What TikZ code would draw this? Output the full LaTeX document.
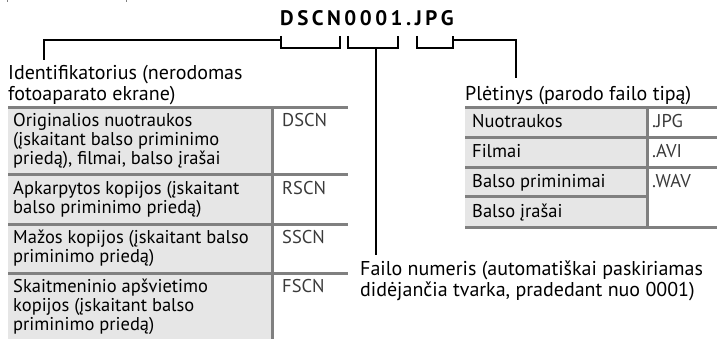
\documentclass[tikz,border=0pt]{standalone}
\usepackage{fontspec}
\setmainfont{PT Sans}
\definecolor{cellgray}{HTML}{E6E6E6}
\definecolor{rulegray}{HTML}{808080}
\definecolor{codegray}{HTML}{3A3A3A}
\newcommand{\tk}{\kern3.5pt}
\begin{document}
\begin{tikzpicture}[x=1pt,y=-1pt,
  lbl/.style={anchor=base west, inner sep=0pt, font=\fontsize{20}{21}\selectfont},
  cell/.style={anchor=base west, inner sep=0pt, font=\fontsize{18.5}{19}\selectfont},
  codetxt/.style={anchor=base west, inner sep=0pt, font=\fontsize{18.5}{19}\selectfont, text=codegray},
  titletxt/.style={anchor=base west, inner sep=0pt, font=\fontsize{21}{24}\selectfont\bfseries},
  tabrule/.style={line width=3pt, draw=rulegray},
  lead/.style={line width=2pt, draw=black},
  tick/.style={line width=1pt, draw=rulegray}]
\useasboundingbox (0,0) rectangle (717,339);
% tiny marks at the top edge
\coordinate (m1a) at (7,0); \coordinate (m1b) at (7,2);
\coordinate (m2a) at (126,0); \coordinate (m2b) at (126,2);
\draw[tick] (m1a) -- (m1b);
\draw[tick] (m2a) -- (m2b);
% title
\node[titletxt] (title) at (280,26) {D\tk S\tk C\tk N\tk 0\tk 0\tk 0\tk 1\tk .\tk J\tk P\tk G};
% brackets
\coordinate (b1l) at (281,36); \coordinate (b1r) at (340,36);
\coordinate (b2l) at (348,36); \coordinate (b2r) at (398,36);
\coordinate (b3l) at (417,36); \coordinate (b3r) at (453,36);
\draw[lead] (b1l) -- ++(0,12) -| (b1r);
\draw[lead] (b2l) -- ++(0,12) -| (b2r);
\draw[lead] (b3l) -- ++(0,12) -| (b3r);
% labels
\node[lbl] (idA) at (8,80) {Identifikatorius (nerodomas};
\node[lbl] (idB) at (8,101) {fotoaparato ekrane)};
\node[lbl] (ext) at (465,101) {Plėtinys (parodo failo tipą)};
\node[lbl] (numA) at (360,275) {Failo numeris (automatiškai paskiriamas};
\node[lbl] (numB) at (360,296) {didėjančia tvarka, pradedant nuo 0001)};
% leaders
\coordinate (j1) at (281,40);
\coordinate (j1e) at (44,60);
\draw[lead] (j1) -| (j1e);
\coordinate (j2) at (376,48);
\coordinate (j2e) at (376,255);
\draw[lead] (j2) -- (j2e);
\coordinate (j3) at (453,40);
\coordinate (j3e) at (516,78);
\draw[lead] (j3) -| (j3e);
% left table
\fill[cellgray] (8,108) rectangle (272,339);
\draw[tabrule] (8,108) -- (348,108);
\draw[tabrule] (8,175) -- (348,175);
\draw[tabrule] (8,224) -- (348,224);
\draw[tabrule] (8,273) -- (348,273);
\draw[tabrule] (272,108) -- (272,339);
\node[cell] (l1a) at (13,127) {Originalios nuotraukos};
\node[cell] (l1b) at (13,146) {(įskaitant balso priminimo};
\node[cell] (l1c) at (13,165) {priedą), filmai, balso įrašai};
\node[codetxt] (c1) at (282,127) {DSCN};
\node[cell] (l2a) at (13,194) {Apkarpytos kopijos (įskaitant};
\node[cell] (l2b) at (13,213) {balso priminimo priedą)};
\node[codetxt] (c2) at (282,194) {RSCN};
\node[cell] (l3a) at (13,243) {Mažos kopijos (įskaitant balso};
\node[cell] (l3b) at (13,262) {priminimo priedą)};
\node[codetxt] (c3) at (282,243) {SSCN};
\node[cell] (l4a) at (13,292) {Skaitmeninio apšvietimo};
\node[cell] (l4b) at (13,311) {kopijos (įskaitant balso};
\node[cell] (l4c) at (13,330) {priminimo priedą)};
\node[codetxt] (c4) at (282,292) {FSCN};
% right table
\fill[cellgray] (465,108) rectangle (647,227);
\draw[tabrule] (465,108) -- (717,108);
\draw[tabrule] (465,138) -- (717,138);
\draw[tabrule] (465,168) -- (717,168);
\draw[tabrule] (465,197) -- (647,197);
\draw[tabrule] (465,227) -- (717,227);
\draw[tabrule] (647,108) -- (647,227);
\node[cell] (r1) at (472,128) {Nuotraukos};
\node[codetxt] (e1) at (652,128) {.JPG};
\node[cell] (r2) at (472,158) {Filmai};
\node[codetxt] (e2) at (652,158) {.AVI};
\node[cell] (r3) at (472,188) {Balso priminimai};
\node[codetxt] (e3) at (652,188) {.WAV};
\node[cell] (r4) at (472,217) {Balso įrašai};
\end{tikzpicture}
\end{document}
